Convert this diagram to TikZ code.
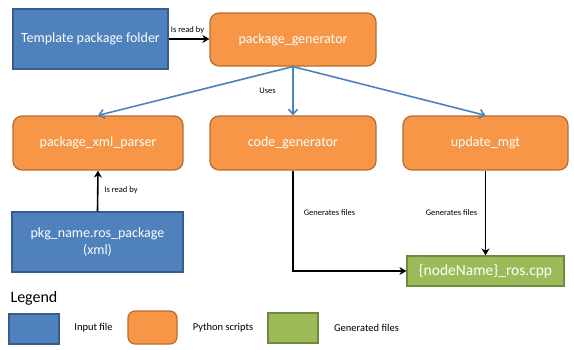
\documentclass[tikz,border=0pt]{standalone}
\usepackage{fontspec}
\setmainfont{Carlito}
\usepackage{tikz}
\usetikzlibrary{shapes,arrows.meta}

\definecolor{inblue}{HTML}{4F81BD}
\definecolor{inblueline}{HTML}{385D8A}
\definecolor{pyorange}{HTML}{F79646}
\definecolor{pyorangeline}{HTML}{B66D31}
\definecolor{gengreen}{HTML}{9BBB59}
\definecolor{gengreenline}{HTML}{71893F}

\tikzset{
  inputbox/.style={draw=inblueline, fill=inblue, line width=1.2pt, text=white, align=center, font=\fontsize{14}{17}\selectfont},
  scriptbox/.style={draw=pyorangeline, fill=pyorange, line width=1.2pt, rounded corners=9pt, text=white, font=\fontsize{14}{17}\selectfont},
  genbox/.style={draw=gengreenline, fill=gengreen, line width=1.2pt, text=white, font=\fontsize{15.5}{18}\selectfont},
  readarrow/.style={line width=1.6pt, -{Stealth[length=7pt,width=8pt]}},
  usesarrow/.style={draw=inblue, line width=1.6pt, -{Straight Barb[length=5pt,width=9pt]}},
  smalllabel/.style={font=\fontsize{8.5}{10}\selectfont},
  legendlabel/.style={font=\fontsize{10.5}{12}\selectfont}
}

\begin{document}
\begin{tikzpicture}[x=1pt, y=-1pt]
    \useasboundingbox (0,0) rectangle (574,349);

    % Boxes
    \node [inputbox, minimum width=155pt, minimum height=60pt] (template) at (90.5,39) {Template package folder};
    \node [scriptbox, minimum width=166pt, minimum height=53pt] (pkggen) at (293,39.5) {package\_generator};
    \node [scriptbox, minimum width=170pt, minimum height=54pt] (xmlparser) at (98,143) {package\_xml\_parser};
    \node [scriptbox, minimum width=166pt, minimum height=54pt] (codegen) at (293,143) {code\_generator};
    \node [scriptbox, minimum width=165pt, minimum height=54pt] (updmgt) at (485.5,143) {update\_mgt};
    \node [inputbox, minimum width=171pt, minimum height=60pt] (pkgros) at (97.5,242) {pkg\_name.ros\_package\\(xml)};
    \node [genbox, minimum width=157pt, minimum height=30pt] (cpp) at (485.5,271) {\{nodeName\}\_ros.cpp};

    % Arrows and lines
    \draw [readarrow] (template.east) -- (template.east -| pkggen.west);
    \draw [usesarrow] (pkggen.south) -- (xmlparser.north);
    \draw [usesarrow] (pkggen.south) -- (codegen.north);
    \draw [usesarrow] (pkggen.south) -- (updmgt.north);
    \draw [readarrow] (pkgros.north) -- (xmlparser.south);
    \draw [readarrow] (codegen.south) |- (cpp.west);
    \draw [readarrow] (updmgt.south) -- (cpp.north);

    % Connector labels
    \node [smalllabel] (readlbla) at (187.5,30) {Is read by};
    \node [smalllabel] (useslbl) at (267.5,91) {Uses};
    \node [smalllabel] (readlblb) at (121,190) {Is read by};
    \node [smalllabel] (genlbla) at (329.5,213) {Generates files};
    \node [smalllabel] (genlblb) at (451.5,213) {Generates files};

    % Legend
    \node [anchor=west, font=\fontsize{16}{18}\selectfont] (legend) at (7,298) {Legend};
    \node [inputbox, minimum width=50pt, minimum height=30pt] (leginput) at (34,329) {};
    \node [legendlabel] (leginputlbl) at (93.5,328) {Input file};
    \node [scriptbox, rounded corners=7pt, minimum width=49pt, minimum height=33pt] (legscript) at (152.5,327.5) {};
    \node [legendlabel] (legscriptlbl) at (223,328) {Python scripts};
    \node [genbox, minimum width=50pt, minimum height=30pt] (leggen) at (293,328) {};
    \node [legendlabel] (leggenlbl) at (366.5,328) {Generated files};
\end{tikzpicture}
\end{document}
